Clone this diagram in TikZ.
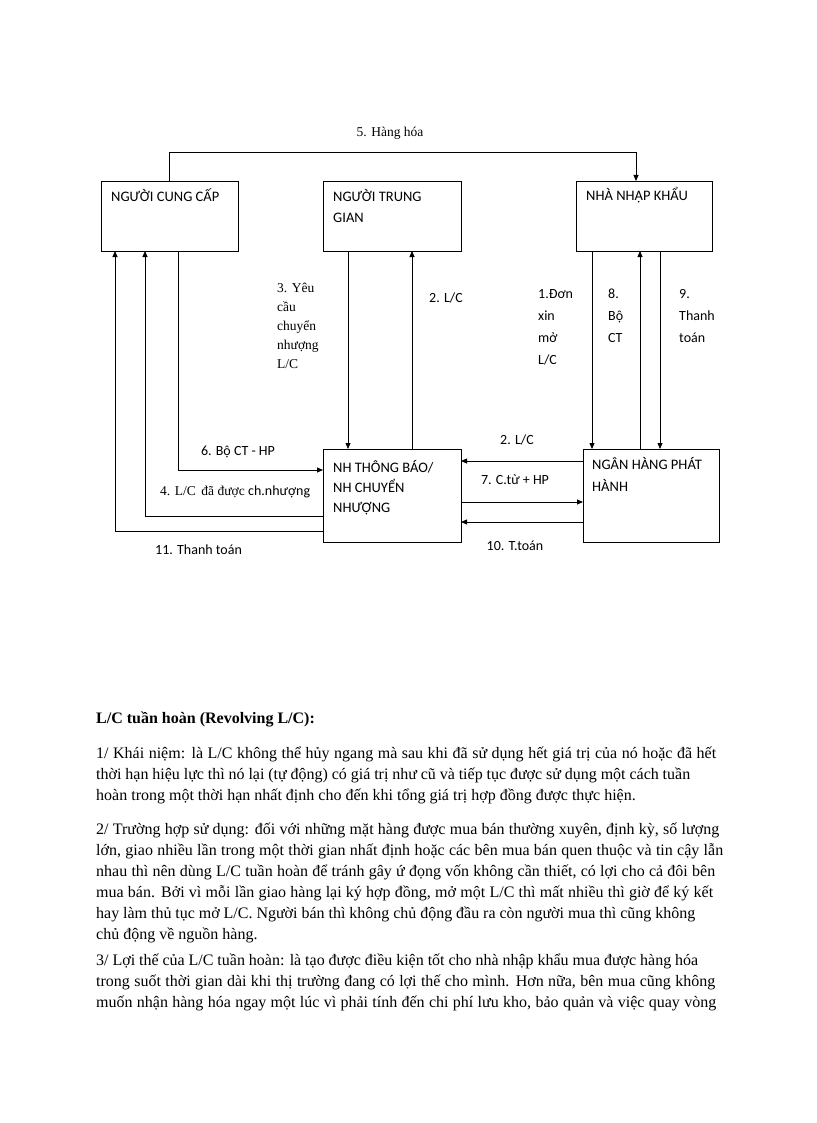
\documentclass[tikz,border=0pt]{standalone}
\usepackage{fontspec}
\setmainfont{Liberation Serif}
\newfontfamily\calfont{Carlito}
\usetikzlibrary{arrows.meta}
\tikzset{
  box/.style={draw, line width=0.9pt, inner sep=0pt, outer sep=0pt, anchor=north west},
  arr/.style={draw, line width=0.8pt, -{Triangle[length=6pt,width=5pt]}},
  boxtxt/.style={inner sep=0pt, anchor=north west, align=left},
  sl/.style={inner sep=0pt, font=\calfont\fontsize{14}{21}\selectfont},
  serl/.style={inner sep=0pt, font=\fontsize{13.5}{19}\selectfont},
  para/.style={inner sep=0pt, anchor=north west, align=left, font=\fontsize{16}{21}\selectfont}
}
\begin{document}
\begin{tikzpicture}[x=1pt,y=-1pt]
\fill[white] (0,0) rectangle (816,1123);
\useasboundingbox (0,0) rectangle (816,1123);

% boxes
\node[box, minimum width=137pt, minimum height=70pt] (A) at (101,181) {};
\node[box, minimum width=138pt, minimum height=70pt] (B) at (323,181) {};
\node[box, minimum width=136pt, minimum height=70pt] (C) at (576,181) {};
\node[box, minimum width=138pt, minimum height=93pt] (D) at (323,449) {};
\node[box, minimum width=136pt, minimum height=93pt] (E) at (583,449) {};

% box texts
\node[boxtxt, font=\calfont\fontsize{14.5}{21}\selectfont] (At) at (111,186.8) {\strut NGƯỜI CUNG CẤP};
\node[boxtxt, font=\calfont\fontsize{14.5}{21}\selectfont] (Bt) at (333,186.8) {\strut NGƯỜI TRUNG\\GIAN};
\node[boxtxt, font=\calfont\fontsize{14.5}{21}\selectfont] (Ct) at (586,185.8) {\strut NHÀ NHẬP KHẨU};
\node[boxtxt, font=\calfont\fontsize{14.5}{20}\selectfont] (Dt) at (333,458.5) {\strut NH THÔNG BÁO/\\NH CHUYỂN\\NHƯỢNG};
\node[boxtxt, font=\calfont\fontsize{14.5}{22}\selectfont] (Et) at (592,453.8) {\strut NGÂN HÀNG PHÁT\\HÀNH};

% coordinates for connectors
\coordinate (x11) at (115,0);
\coordinate (x4) at (145,0);
\coordinate (x6) at (178,0);
\coordinate (x5a) at (169,0);
\coordinate (x5b) at (636,0);
\coordinate (x3) at (348,0);
\coordinate (x2u) at (412,0);
\coordinate (x1) at (592,0);
\coordinate (x8) at (640,0);
\coordinate (x9) at (660,0);
\coordinate (y5) at (0,152);
\coordinate (y6) at (0,470);
\coordinate (y4) at (0,516);
\coordinate (y11) at (0,531);
\coordinate (y2h) at (0,461);
\coordinate (y7) at (0,502);
\coordinate (y10) at (0,522);

% connectors
\draw[arr] (x5a |- A.north) -- (x5a |- y5) -| (x5b |- C.north);
\draw[arr] (x6 |- A.south) |- (D.west |- y6);
\draw[arr] (D.west |- y4) -| (x4 |- A.south);
\draw[arr] (D.west |- y11) -| (x11 |- A.south);
\draw[arr] (x3 |- B.south) -- (x3 |- D.north);
\draw[arr] (x2u |- D.north) -- (x2u |- B.south);
\draw[arr] (x1 |- C.south) -- (x1 |- E.north);
\draw[arr] (x8 |- E.north) -- (x8 |- C.south);
\draw[arr] (x9 |- C.south) -- (x9 |- E.north);
\draw[arr] (E.west |- y2h) -- (D.east |- y2h);
\draw[arr] (D.east |- y7) -- (E.west |- y7);
\draw[arr] (E.west |- y10) -- (D.east |- y10);

% labels
\node[serl, anchor=base] (l5) at (390,136.5) {5. Hàng hóa};
\node[serl, anchor=north west, align=left] (l3) at (277,279.2) {\strut 3. Yêu\\cầu\\chuyển\\nhượng\\L/C};
\node[sl, anchor=base] (l2v) at (446,302.5) {2. L/C};
\node[sl, anchor=north west, align=left, font=\calfont\fontsize{14}{22}\selectfont] (l1) at (538,282.6) {\strut 1.Đơn\\xin\\mở\\L/C};
\node[sl, anchor=north west, align=left, font=\calfont\fontsize{14}{22}\selectfont] (l8) at (608,282.6) {\strut 8.\\Bộ\\CT};
\node[sl, anchor=north west, align=left, font=\calfont\fontsize{14}{22}\selectfont] (l9) at (679,282.6) {\strut 9.\\Thanh\\toán};
\node[sl, anchor=base] (l6) at (238,455.5) {6. Bộ CT - HP};
\node[sl, anchor=base west, font=\fontsize{13.5}{19}\selectfont] (l4) at (160,495.5) {4. L/C\, đã được {\calfont\fontsize{14}{19}\selectfont ch.nhượng}};
\node[sl, anchor=base west] (l11) at (155,554.5) {11. Thanh toán};
\node[sl, anchor=base] (l2h) at (517,444.5) {2. L/C};
\node[sl, anchor=base] (l7) at (515,484.5) {7. C.từ + HP};
\node[sl, anchor=base] (l10) at (515,550.5) {10. T.toán};

% body text
\node[inner sep=0pt, anchor=base west, font=\bfseries\fontsize{16}{21}\selectfont] (title) at (96,723) {L/C tuần hoàn (Revolving L/C):};
\node[para] (p1) at (96,743.3) {\strut\makebox[620pt][s]{1/ Khái niệm: là L/C không thể hủy ngang mà sau khi đã sử dụng hết giá trị của nó hoặc đã hết}\\
\makebox[594pt][s]{thời hạn hiệu lực thì nó lại (tự động) có giá trị như cũ và tiếp tục được sử dụng một cách tuần}\\
hoàn trong một thời hạn nhất định cho đến khi tổng giá trị hợp đồng được thực hiện.};
\node[para] (p2) at (96,819.3) {\strut\makebox[623pt][s]{2/ Trường hợp sử dụng: đối với những mặt hàng được mua bán thường xuyên, định kỳ, số lượng}\\
\makebox[627pt][s]{lớn, giao nhiều lần trong một thời gian nhất định hoặc các bên mua bán quen thuộc và tin cậy lẫn}\\
\makebox[619pt][s]{nhau thì nên dùng L/C tuần hoàn để tránh gây ứ đọng vốn không cần thiết, có lợi cho cả đôi bên}\\
\makebox[617pt][s]{mua bán. Bởi vì mỗi lần giao hàng lại ký hợp đồng, mở một L/C thì mất nhiều thì giờ để ký kết}\\
\makebox[599pt][s]{hay làm thủ tục mở L/C. Người bán thì không chủ động đầu ra còn người mua thì cũng không}\\
chủ động về nguồn hàng.};
\node[para] (p3) at (96,950.3) {\strut\makebox[602pt][s]{3/ Lợi thế của L/C tuần hoàn: là tạo được điều kiện tốt cho nhà nhập khẩu mua được hàng hóa}\\
\makebox[619pt][s]{trong suốt thời gian dài khi thị trường đang có lợi thế cho mình. Hơn nữa, bên mua cũng không}\\
\makebox[620pt][s]{muốn nhận hàng hóa ngay một lúc vì phải tính đến chi phí lưu kho, bảo quản và việc quay vòng}};
\end{tikzpicture}
\end{document}
